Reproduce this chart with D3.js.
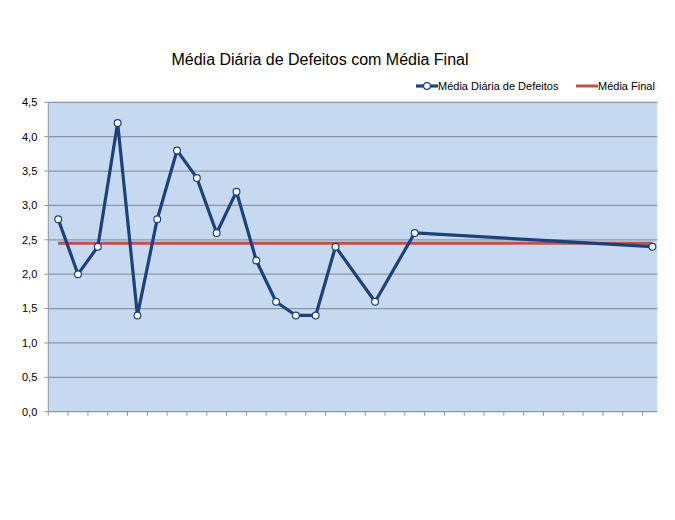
<!DOCTYPE html>
<html>
<head>
<meta charset="utf-8">
<script src="https://cdn.jsdelivr.net/npm/d3@7"></script>
<style>
  body { margin: 0; background: #fff; }
  svg { font-family: "Liberation Sans", Arial, sans-serif; }
</style>
</head>
<body>
<svg width="675" height="520"></svg>
<script>
// days of the month (no labels shown on axis)
var days = d3.range(1, 32);
// daily average of defects, null where there was no data
var mediaDiaria = [2.8, 2.0, 2.4, 4.2, 1.4, 2.8, 3.8, 3.4, 2.6, 3.2, 2.2, 1.6, 1.4, 1.4, 2.4,
  null, 1.6, null, 2.6, null, null, null, null, null, null, null, null, null, null, null, 2.4];
var mediaFinal = 2.45;
var yTicks = [0, 0.5, 1, 1.5, 2, 2.5, 3, 3.5, 4, 4.5];
var titulo = "Média Diária de Defeitos com Média Final";
var legendNames = ["Média Diária de Defeitos", "Média Final"];

var svg = d3.select("svg");
var margin = {top: 102.3, left: 48.3};
var plotW = 609, plotH = 309.4;
var g = svg.append("g").attr("transform", "translate(" + margin.left + "," + margin.top + ")");

var x = d3.scaleBand().domain(days).range([0, 614]);
var y = d3.scaleLinear().domain([0, 4.5]).range([plotH, 0]);

var blue = "#1c4279", red = "#c0504d", grid = "#8b96a3";

g.append("rect")
  .attr("width", plotW).attr("height", plotH)
  .attr("fill", "#c6d9f1");

// gridlines
g.selectAll(".grid").data(yTicks.slice(1))
  .enter().append("line")
    .attr("x1", 0).attr("x2", plotW)
    .attr("y1", function(d) { return y(d); })
    .attr("y2", function(d) { return y(d); })
    .attr("stroke", grid).attr("stroke-width", 1.2);

// y axis
g.append("line").attr("x1", 0).attr("x2", 0).attr("y1", 0).attr("y2", plotH)
  .attr("stroke", grid).attr("stroke-width", 1);
g.selectAll(".ytick").data(yTicks)
  .enter().append("line")
    .attr("x1", -4).attr("x2", 0)
    .attr("y1", function(d) { return y(d); })
    .attr("y2", function(d) { return y(d); })
    .attr("stroke", grid);
g.selectAll(".ylab").data(yTicks)
  .enter().append("text")
    .attr("x", -11)
    .attr("y", function(d) { return y(d); })
    .attr("dy", "0.35em")
    .attr("text-anchor", "end")
    .style("font-size", "11px")
    .attr("fill", "#000")
    .text(function(d) { return d3.format(".1f")(d).replace(".", ","); });

// x axis
g.append("line").attr("x1", 0).attr("x2", plotW).attr("y1", plotH).attr("y2", plotH)
  .attr("stroke", grid).attr("stroke-width", 1.2);
g.selectAll(".xtick").data(days.filter(function(d) { return x(d) <= plotW; }))
  .enter().append("line")
    .attr("x1", function(d) { return x(d); })
    .attr("x2", function(d) { return x(d); })
    .attr("y1", plotH).attr("y2", plotH + 4)
    .attr("stroke", grid);

var cx = function(d) { return x(d.day) + x.bandwidth() / 2; };

// average line
g.append("line")
  .attr("x1", x(days[0]) + x.bandwidth() / 2)
  .attr("x2", x(days[days.length - 1]) + x.bandwidth() / 2)
  .attr("y1", y(mediaFinal)).attr("y2", y(mediaFinal))
  .attr("stroke", red).attr("stroke-width", 3);

// daily series, gaps are bridged like Excel does
var pts = days.map(function(d, i) { return {day: d, value: mediaDiaria[i]}; })
  .filter(function(d) { return d.value != null; });

var line = d3.line().x(cx).y(function(d) { return y(d.value); });
g.append("path")
  .attr("d", line(pts))
  .attr("fill", "none")
  .attr("stroke", blue).attr("stroke-width", 3.2)
  .attr("stroke-linejoin", "round");
g.selectAll(".pt").data(pts)
  .enter().append("circle")
    .attr("cx", cx)
    .attr("cy", function(d) { return y(d.value); })
    .attr("r", 3.4)
    .attr("fill", "#fff")
    .attr("stroke", blue).attr("stroke-width", 1.2);

// title
svg.append("text")
  .attr("x", 320).attr("y", 65)
  .attr("text-anchor", "middle")
  .style("font-size", "16px")
  .attr("fill", "#000")
  .text(titulo);

// legend
var leg = svg.append("g").style("font-size", "11px");
leg.append("line").attr("x1", 416).attr("x2", 438).attr("y1", 86).attr("y2", 86)
  .attr("stroke", blue).attr("stroke-width", 3.2);
leg.append("circle").attr("cx", 427).attr("cy", 86).attr("r", 3.4)
  .attr("fill", "#fff").attr("stroke", blue).attr("stroke-width", 1.2);
leg.append("text").attr("x", 438).attr("y", 86).attr("dy", "0.35em").text(legendNames[0]);
leg.append("line").attr("x1", 576).attr("x2", 598).attr("y1", 86).attr("y2", 86)
  .attr("stroke", red).attr("stroke-width", 3);
leg.append("text").attr("x", 598).attr("y", 86).attr("dy", "0.35em").text(legendNames[1]);
</script>
</body>
</html>
